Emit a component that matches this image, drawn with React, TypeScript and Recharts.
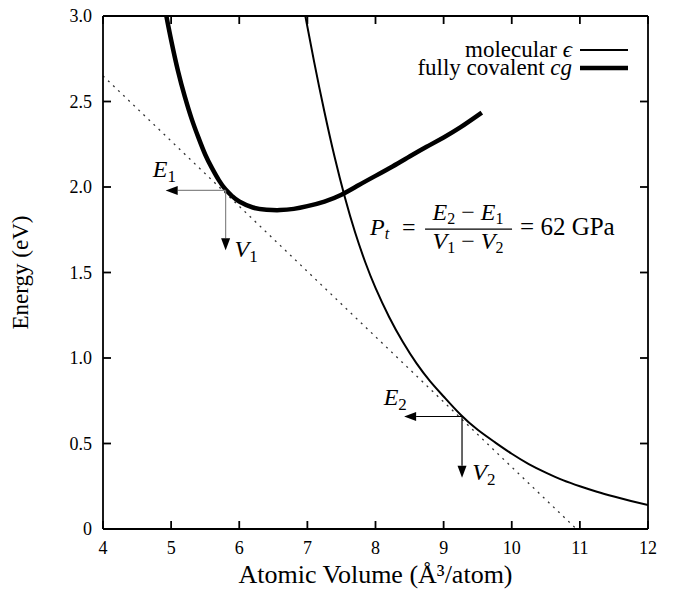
import React from 'react';
import {
  LineChart,
  Line,
  XAxis,
  YAxis,
  Legend,
  ReferenceLine,
  ReferenceDot,
} from 'recharts';

const SERIF = "'Liberation Serif', serif";

const xTicks = [4, 5, 6, 7, 8, 9, 10, 11, 12];
const yTicks = [0, 0.5, 1, 1.5, 2, 2.5, 3];

// molecular epsilon phase (thin curve)
const molecularV = [6.97, 7.1, 7.25, 7.4, 7.55, 7.7, 7.85, 8.0, 8.2, 8.4, 8.6, 8.8, 9.0, 9.25, 9.5, 9.75, 10.0, 10.25, 10.5, 10.75, 11.0, 11.25, 11.5, 11.75, 12.0];
const molecularE = [3.0, 2.73, 2.44, 2.175, 1.94, 1.735, 1.56, 1.41, 1.24, 1.095, 0.97, 0.865, 0.775, 0.668, 0.58, 0.508, 0.44, 0.38, 0.33, 0.286, 0.25, 0.218, 0.19, 0.164, 0.14];

// fully covalent cg phase (thick curve)
const covalentV = [4.93, 5.0, 5.1, 5.2, 5.3, 5.4, 5.5, 5.6, 5.7, 5.8, 5.9, 6.0, 6.2, 6.4, 6.6, 6.8, 7.0, 7.25, 7.5, 7.75, 8.0, 8.25, 8.5, 8.75, 9.0, 9.25, 9.56];
const covalentE = [3.0, 2.86, 2.68, 2.53, 2.4, 2.29, 2.19, 2.11, 2.04, 1.985, 1.945, 1.915, 1.88, 1.867, 1.865, 1.872, 1.888, 1.915, 1.955, 2.01, 2.065, 2.12, 2.178, 2.235, 2.29, 2.35, 2.435];

// common tangent (dotted)
const tangentV = [4, 10.95];
const tangentE = [2.65, 0];

// legend rows, top to bottom
const legendOrder = ['molecular ϵ', 'fully covalent cg'];

// tangent points and where the arrows end
const point1 = { v: 5.8, e: 1.98, vTip: 1.63, eTip: 4.92 };
const point2 = { v: 9.27, e: 0.658, vTip: 0.3, eTip: 8.42 };

const toRows = (vs: number[], es: number[]) => vs.map((v, i) => ({ v, e: es[i] }));

const molecularData = toRows(molecularV, molecularE);
const covalentData = toRows(covalentV, covalentE);
const tangentData = toRows(tangentV, tangentE);

function ArrowShape(props: any) {
  const { x1, y1, x2, y2, stroke } = props;
  const dx = x2 - x1;
  const dy = y2 - y1;
  const len = Math.hypot(dx, dy) || 1;
  const ux = dx / len;
  const uy = dy / len;
  const head = 12;
  const half = 4.5;
  const bx = x2 - ux * head;
  const by = y2 - uy * head;
  const pts = `${x2},${y2} ${bx - uy * half},${by + ux * half} ${bx + uy * half},${by - ux * half}`;
  return (
    <g>
      <line x1={x1} y1={y1} x2={bx} y2={by} stroke={stroke} strokeWidth={1.2} />
      <polygon points={pts} fill="#000" />
    </g>
  );
}

const symbolLabel = (sym: string, sub: string) => (props: any) => (
  <text x={props.cx} y={props.cy} textAnchor="middle" fontFamily={SERIF} fontSize={24} fill="#000">
    <tspan fontStyle="italic">{sym}</tspan>
    <tspan fontSize={17} dy={5}>{sub}</tspan>
  </text>
);

function Formula(props: any) {
  const { cx, cy } = props;
  const sub = { fontSize: 16 };
  return (
    <g fontFamily={SERIF} fontSize={24} fill="#000">
      <text x={cx} y={cy}>
        <tspan fontStyle="italic">P</tspan>
        <tspan fontStyle="italic" {...sub} dy={4}>t</tspan>
      </text>
      <text x={cx + 32} y={cy}>=</text>
      <text x={cx + 98} y={cy - 15} textAnchor="middle">
        <tspan fontStyle="italic">E</tspan>
        <tspan {...sub} dy={4}>2</tspan>
        <tspan dy={-4}> − </tspan>
        <tspan fontStyle="italic">E</tspan>
        <tspan {...sub} dy={4}>1</tspan>
      </text>
      <line x1={cx + 55} x2={cx + 142} y1={cy - 6} y2={cy - 6} stroke="#000" strokeWidth={1.3} />
      <text x={cx + 98} y={cy + 14} textAnchor="middle">
        <tspan fontStyle="italic">V</tspan>
        <tspan {...sub} dy={4}>1</tspan>
        <tspan dy={-4}> − </tspan>
        <tspan fontStyle="italic">V</tspan>
        <tspan {...sub} dy={4}>2</tspan>
      </text>
      <text x={cx + 150} y={cy} fontSize={25}>= 62 GPa</text>
    </g>
  );
}

function LegendBox({ payload }: any) {
  const rows = legendOrder
    .map((name) => (payload || []).find((p: any) => p.value === name))
    .filter(Boolean);
  return (
    <div style={{ fontFamily: SERIF, fontSize: 23, color: '#000' }}>
      {rows.map((entry: any) => {
        const name: string = entry.value;
        const cut = name.lastIndexOf(' ');
        return (
          <div
            key={name}
            style={{ display: 'flex', justifyContent: 'flex-end', alignItems: 'center', height: 17.7 }}
          >
            <span style={{ lineHeight: '17.7px', whiteSpace: 'pre' }}>
              {name.slice(0, cut + 1)}
              <i>{name.slice(cut + 1)}</i>
            </span>
            <svg width={48} height={10} style={{ marginLeft: 8 }}>
              <line
                x1={0}
                x2={48}
                y1={5}
                y2={5}
                stroke={entry.color}
                strokeWidth={entry.payload?.strokeWidth ?? 2}
              />
            </svg>
          </div>
        );
      })}
    </div>
  );
}

const tickStyle = { fill: '#000', fontSize: 18, fontFamily: SERIF };

export default function App() {
  return (
    <div style={{ position: 'absolute', left: 0, top: 0, background: '#fff' }}>
      <LineChart width={673} height={589} margin={{ top: 15, right: 24, bottom: 0, left: 0 }}>
        <XAxis
          dataKey="v"
          type="number"
          domain={[4, 12]}
          ticks={xTicks}
          allowDataOverflow
          height={60}
          stroke="#000"
          strokeWidth={1.8}
          tickSize={-8}
          tickMargin={20}
          tick={tickStyle}
          label={{
            value: 'Atomic Volume (Å³/atom)',
            position: 'insideBottom',
            offset: 6,
            style: { fill: '#000', fontSize: 26, fontFamily: SERIF },
          }}
        />
        <XAxis
          xAxisId="top"
          orientation="top"
          dataKey="v"
          type="number"
          domain={[4, 12]}
          ticks={xTicks}
          allowDataOverflow
          height={1}
          stroke="#000"
          strokeWidth={1.8}
          tickSize={-8}
          tickFormatter={() => ''}
        />
        <YAxis
          type="number"
          domain={[0, 3]}
          ticks={yTicks}
          allowDataOverflow
          width={103}
          stroke="#000"
          strokeWidth={1.8}
          tickSize={-8}
          tickMargin={19}
          tick={tickStyle}
          tickFormatter={(v: number) => (v === 0 ? '0' : v.toFixed(1))}
          label={{
            value: 'Energy (eV)',
            angle: -90,
            position: 'insideLeft',
            offset: 20,
            style: { fill: '#000', fontSize: 23, fontFamily: SERIF, textAnchor: 'middle' },
          }}
        />
        <YAxis
          yAxisId="right"
          orientation="right"
          type="number"
          domain={[0, 3]}
          ticks={yTicks}
          allowDataOverflow
          width={1}
          stroke="#000"
          strokeWidth={1.8}
          tickSize={-8}
          tickFormatter={() => ''}
        />
        <Legend
          layout="vertical"
          align="center"
          verticalAlign="middle"
          wrapperStyle={{ top: 41, left: 378, width: 250 }}
          content={<LegendBox />}
        />
        <Line
          data={tangentData}
          dataKey="e"
          name="tangent"
          type="linear"
          stroke="#333"
          strokeWidth={1.3}
          strokeDasharray="2 5"
          dot={false}
          legendType="none"
          isAnimationActive={false}
        />
        <Line
          data={molecularData}
          dataKey="e"
          name="molecular ϵ"
          type="natural"
          stroke="#000"
          strokeWidth={2}
          dot={false}
          isAnimationActive={false}
        />
        <Line
          data={covalentData}
          dataKey="e"
          name="fully covalent cg"
          type="natural"
          stroke="#000"
          strokeWidth={4.5}
          dot={false}
          isAnimationActive={false}
        />
        <ReferenceLine
          segment={[{ x: point1.v, y: point1.e }, { x: point1.eTip, y: point1.e }]}
          stroke="#888"
          shape={ArrowShape}
        />
        <ReferenceLine
          segment={[{ x: point1.v, y: point1.e }, { x: point1.v, y: point1.vTip }]}
          stroke="#888"
          shape={ArrowShape}
        />
        <ReferenceLine
          segment={[{ x: point2.v, y: point2.e }, { x: point2.eTip, y: point2.e }]}
          stroke="#000"
          shape={ArrowShape}
        />
        <ReferenceLine
          segment={[{ x: point2.v, y: point2.e }, { x: point2.v, y: point2.vTip }]}
          stroke="#000"
          shape={ArrowShape}
        />
        <ReferenceDot x={4.9} y={2.06} shape={symbolLabel('E', '1')} />
        <ReferenceDot x={6.1} y={1.59} shape={symbolLabel('V', '1')} />
        <ReferenceDot x={8.29} y={0.725} shape={symbolLabel('E', '2')} />
        <ReferenceDot x={9.59} y={0.287} shape={symbolLabel('V', '2')} />
        <ReferenceDot x={7.92} y={1.719} shape={Formula} />
      </LineChart>
    </div>
  );
}
